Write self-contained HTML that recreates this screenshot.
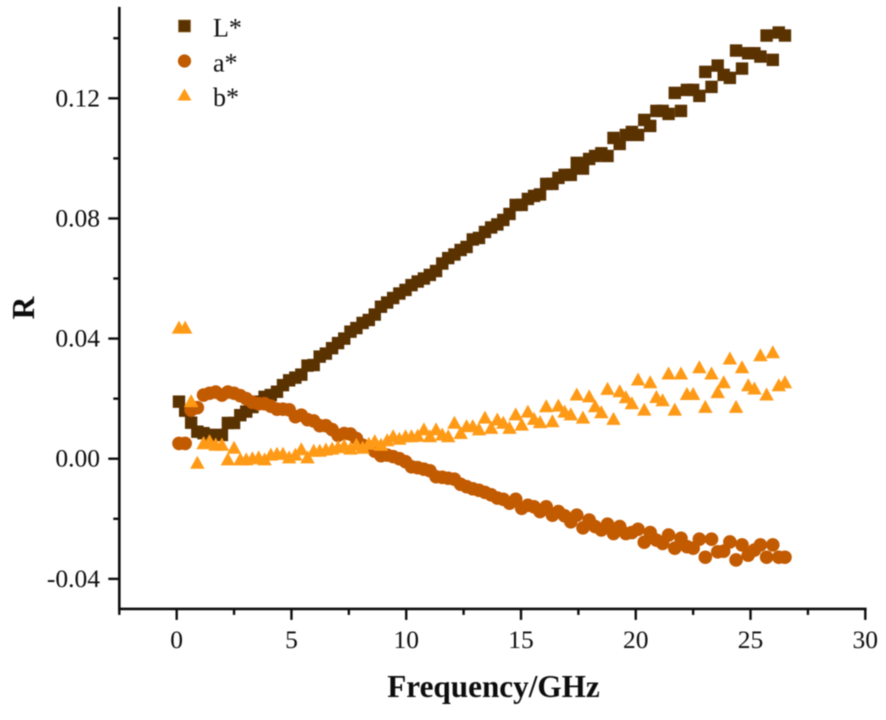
<!DOCTYPE html>
<html lang="en">
<head>
<meta charset="utf-8">
<title>R vs Frequency</title>
<style>
html,body{margin:0;padding:0;background:#fff;}
svg{display:block;}
text{font-family:"Liberation Serif",serif;fill:#111;}
</style>
</head>
<body>
<svg id="chart" xmlns="http://www.w3.org/2000/svg" width="886" height="720" viewBox="0 0 886 720">
  <defs>
    <filter id="soft" x="-5%" y="-5%" width="110%" height="110%"><feGaussianBlur stdDeviation="0.55"/></filter>
  </defs>
  <rect x="0" y="0" width="886" height="720" fill="#ffffff"/>
  <g id="root" filter="url(#soft)">
    <g id="axes"></g>
    <g id="marks-l"></g>
    <g id="marks-a"></g>
    <g id="marks-b"></g>
    <g id="legend">
      <rect x="178.5" y="20" width="12" height="12" fill="#5a3100" stroke="#8a6228" stroke-width="0.6"/>
      <text x="213" y="36.5" font-size="26">L*</text>
      <circle cx="184.5" cy="61" r="6.3" fill="#c25a00" stroke="#b06010" stroke-width="0.6"/>
      <text x="213" y="71.5" font-size="26">a*</text>
      <polygon points="184.5,88.5 191.5,100.5 177.5,100.5" fill="#ff9a14"/>
      <text x="213" y="106" font-size="26">b*</text>
    </g>
    <text x="493.5" y="697" font-size="31.2" font-weight="700" text-anchor="middle">Frequency/GHz</text>
    <text transform="translate(34,308) rotate(-90)" font-size="31.5" font-weight="700" text-anchor="middle">R</text>
  </g>
</svg>
<script>
const frequency = [0.10,0.37,0.63,0.90,1.17,1.43,1.70,1.97,2.23,2.50,
  2.77,3.03,3.30,3.57,3.83,4.10,4.37,4.63,4.90,5.17,
  5.43,5.70,5.97,6.23,6.50,6.77,7.03,7.30,7.57,7.83,
  8.10,8.37,8.63,8.90,9.17,9.43,9.70,9.97,10.23,10.50,
  10.77,11.03,11.30,11.57,11.83,12.10,12.37,12.63,12.90,13.17,
  13.43,13.70,13.97,14.23,14.50,14.77,15.03,15.30,15.57,15.83,
  16.10,16.37,16.63,16.90,17.17,17.43,17.70,17.97,18.23,18.50,
  18.77,19.03,19.30,19.57,19.83,20.10,20.37,20.63,20.90,21.17,
  21.43,21.70,21.97,22.23,22.50,22.77,23.03,23.30,23.57,23.83,
  24.10,24.37,24.63,24.90,25.17,25.43,25.70,25.97,26.23,26.50];

const lStar = [.0190,.0160,.0120,.0090,.0085,.0079,.0079,.0079,.0119,.0119,
  .0145,.0157,.0172,.0190,.0206,.0212,.0223,.0245,.0261,.0270,
  .0280,.0310,.0312,.0340,.0350,.0368,.0385,.0400,.0423,.0435,
  .0452,.0462,.0480,.0506,.0520,.0535,.0550,.0562,.0578,.0590,
  .0600,.0612,.0625,.0650,.0668,.0680,.0695,.0705,.0730,.0735,
  .0755,.0770,.0780,.0795,.0815,.0845,.0845,.0865,.0875,.0880,
  .0915,.0915,.0935,.0945,.0945,.0985,.0966,.0998,.1008,.1017,
  .1008,.1068,.1048,.1078,.1088,.1078,.1128,.1108,.1158,.1158,
  .1148,.1218,.1158,.1228,.1228,.1208,.1288,.1238,.1309,.1278,
  .1268,.1359,.1299,.1350,.1350,.1339,.1409,.1328,.1419,.1409];

const aStar = [.0051,.0051,.0162,.0170,.0212,.0218,.0222,.0212,.0222,.0218,
  .0210,.0200,.0188,.0183,.0183,.0175,.0165,.0165,.0163,.0140,
  .0145,.0130,.0126,.0110,.0110,.0097,.0078,.0084,.0082,.0067,
  .0045,.0040,.0025,.0010,.0012,.0007,.0000,-.0010,-.0027,-.0030,
  -.0035,-.0040,-.0060,-.0062,-.0065,-.0068,-.0085,-.0093,-.0100,-.0105,
  -.0112,-.0120,-.0131,-.0135,-.0148,-.0135,-.0165,-.0155,-.0160,-.0176,
  -.0160,-.0188,-.0176,-.0190,-.0210,-.0188,-.0230,-.0204,-.0226,-.0237,
  -.0218,-.0249,-.0226,-.0249,-.0246,-.0235,-.0278,-.0246,-.0271,-.0282,
  -.0254,-.0298,-.0265,-.0293,-.0298,-.0268,-.0328,-.0268,-.0310,-.0308,
  -.0277,-.0337,-.0287,-.0321,-.0304,-.0287,-.0328,-.0287,-.0328,-.0328];

const bStar = [.0435,.0435,.0190,-.0015,.0050,.0056,.0045,.0045,-.0004,.0035,
  -.0004,-.0004,.0000,.0003,-.0004,.0012,.0015,.0015,.0003,.0012,
  .0030,.0003,.0025,.0025,.0029,.0032,.0037,.0042,.0032,.0045,
  .0035,.0048,.0057,.0045,.0060,.0073,.0065,.0073,.0073,.0075,
  .0096,.0073,.0096,.0079,.0073,.0118,.0084,.0107,.0107,.0096,
  .0135,.0101,.0129,.0118,.0101,.0146,.0112,.0155,.0131,.0120,
  .0173,.0123,.0175,.0155,.0146,.0212,.0135,.0206,.0173,.0153,
  .0231,.0131,.0223,.0203,.0183,.0262,.0162,.0253,.0204,.0193,
  .0282,.0162,.0282,.0214,.0214,.0303,.0171,.0282,.0220,.0253,
  .0332,.0171,.0303,.0243,.0232,.0343,.0212,.0353,.0243,.0253];

const xMajorTicks = [0,5,10,15,20,25,30];
const xMinorTicks = [-2.5,2.5,7.5,12.5,17.5,22.5,27.5];
const yMajorTicks = [-0.04,0,0.04,0.08,0.12];
const yMajorLabels = ["-0.04","0.00","0.04","0.08","0.12"];
const yMinorTicks = [-0.02,0.02,0.06,0.10,0.14];
const xDomain = [-2.5,30];
const yDomain = [-0.05,0.15];

const NS = "http://www.w3.org/2000/svg";
const plotLeft = 119.3, plotRight = 865.3, plotTop = 8.2, plotBottom = 608.9;

function xScale(v){ return plotLeft + (v - xDomain[0]) / (xDomain[1] - xDomain[0]) * (plotRight - plotLeft); }
function yScale(v){ return plotBottom - (v - yDomain[0]) / (yDomain[1] - yDomain[0]) * (plotBottom - plotTop); }
function make(tag, attrs, parent){
  const el = document.createElementNS(NS, tag);
  for (const k in attrs) el.setAttribute(k, attrs[k]);
  parent.appendChild(el);
  return el;
}

const axes = document.getElementById("axes");
const lineStyle = {stroke:"#111", "stroke-linecap":"square"};

const xAxisLine = make("line", Object.assign({x1:plotLeft,x2:plotRight,y1:plotBottom,y2:plotBottom,"stroke-width":2.6}, lineStyle), axes);


const yAxisLine = make("line", Object.assign({x1:plotLeft,x2:plotLeft,y1:plotTop,y2:plotBottom,"stroke-width":2.6}, lineStyle), axes);



xMajorTicks.forEach(function(v){
  const x = xScale(v);
  const t = make("line", {x1:x,x2:x,y1:plotBottom,y2:plotBottom+11,stroke:"#111","stroke-width":2.4}, axes);
  
  
  const l = make("text", {x:x,y:648,"font-size":25.5,"text-anchor":"middle"}, axes);
  l.textContent = String(v);
  
  
});
xMinorTicks.forEach(function(v){
  const x = xScale(v);
  const t = make("line", {x1:x,x2:x,y1:plotBottom,y2:plotBottom+6,stroke:"#111","stroke-width":2.4}, axes);
  
  
});
yMajorTicks.forEach(function(v,i){
  const y = yScale(v);
  const t = make("line", {x1:plotLeft-11,x2:plotLeft,y1:y,y2:y,stroke:"#111","stroke-width":2.4}, axes);
  
  
  const l = make("text", {x:100,y:y+8,"font-size":25.5,"text-anchor":"end"}, axes);
  l.textContent = yMajorLabels[i];
  
  
});
yMinorTicks.forEach(function(v){
  const y = yScale(v);
  const t = make("line", {x1:plotLeft-6,x2:plotLeft,y1:y,y2:y,stroke:"#111","stroke-width":2.4}, axes);
  
  
});

const gL = document.getElementById("marks-l");
lStar.forEach(function(v,i){
  const cx = xScale(frequency[i]), cy = yScale(v);
  const m = make("rect", {x:cx-6.2,y:cy-6.2,width:12.4,height:12.4,fill:"#5a3100"}, gL);
  
  
});
const gA = document.getElementById("marks-a");
aStar.forEach(function(v,i){
  const cx = xScale(frequency[i]), cy = yScale(v);
  const m = make("circle", {cx:cx,cy:cy,r:6.8,fill:"#c25a00"}, gA);
  
  
});
const gB = document.getElementById("marks-b");
bStar.forEach(function(v,i){
  const cx = xScale(frequency[i]), cy = yScale(v);
  const pts = cx+","+(cy-7.5)+" "+(cx+7.2)+","+(cy+5.5)+" "+(cx-7.2)+","+(cy+5.5);
  const m = make("polygon", {points:pts,fill:"#ff9a14"}, gB);
  
  
});
</script>
</body>
</html>
